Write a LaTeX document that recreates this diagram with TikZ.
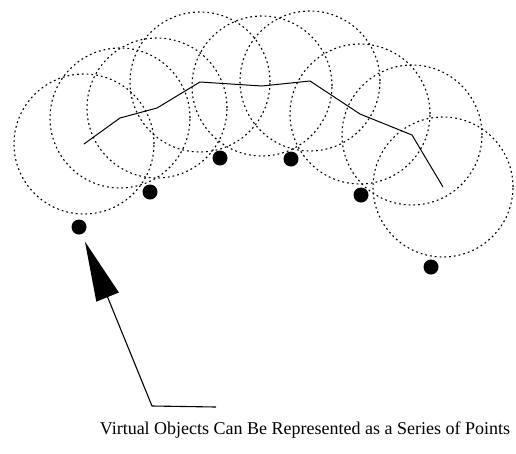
\documentclass[tikz,border=0pt]{standalone}
\usepackage{fontspec}
\setmainfont{Liberation Serif}
\usetikzlibrary{arrows.meta,positioning}
\tikzset{
  rangecircle/.style={
    circle, draw=black, line width=1.1pt,
    dash pattern=on 1.8pt off 3pt,
    minimum size=140pt, inner sep=0pt
  },
  pointdot/.style={
    circle, fill=black, minimum size=15pt, inner sep=0pt
  },
  pathline/.style={line width=1pt, black},
  pointer/.style={
    -{Triangle[length=60pt, width=24pt]}, line width=1.1pt
  },
  caption/.style={font=\fontsize{18}{20}\selectfont, inner sep=0pt},
}

\begin{document}
\begin{tikzpicture}[x=1pt, y=-1pt]
  \useasboundingbox (0,0) rectangle (516,453);
  % circles round the path vertices
  \foreach \x/\y [count=\i] in {84/144, 120/118, 157/108, 200/82, 262/86,
                                310/81, 360/114, 412/135, 443/187} {
    \coordinate (v\i) at (\x,\y);
    \node[rangecircle] (c\i) at (v\i) {};
  }
  \draw[pathline] (v1) \foreach \i in {2,...,9} { -- (v\i) };

  % the series of points
  \foreach \x/\y [count=\i] in {79/227, 150/192, 220/158, 291/159, 361/195, 431/267}
    \node[pointdot] (p\i) at (\x,\y) {};

  % pointer and caption
  \node[caption, anchor=base] (label) at (305,434) {Virtual Objects Can Be Represented as a Series of Points};
  \coordinate (tail) at (216,407);
  \coordinate (bend) at (152,406);
  \draw[pointer, shorten >=8pt] (tail) -- (bend) -- (p1);
\end{tikzpicture}
\end{document}
